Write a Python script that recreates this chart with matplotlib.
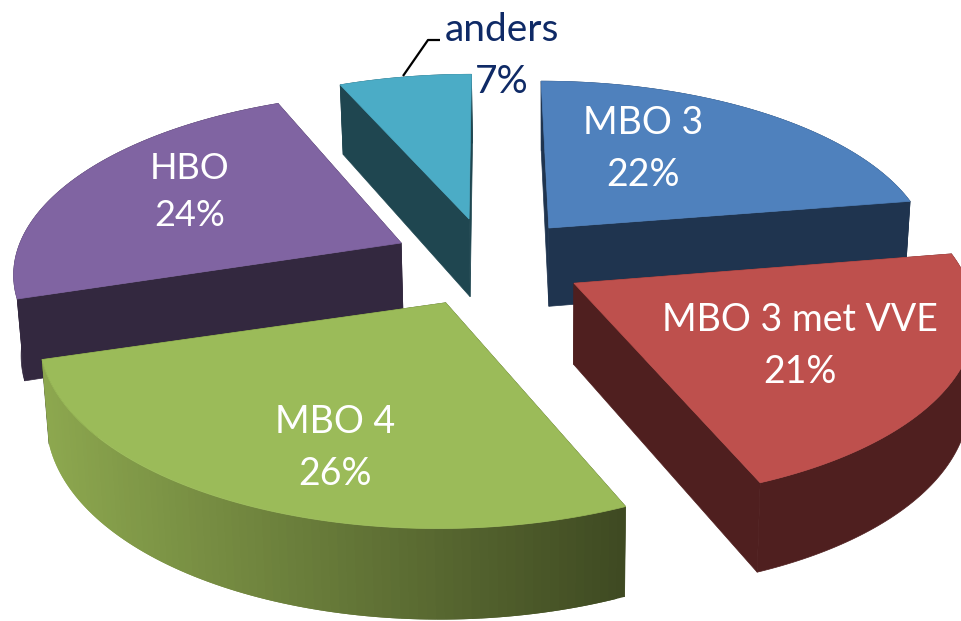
import numpy as np
import matplotlib
matplotlib.use("Agg")
import matplotlib.pyplot as plt
from matplotlib.patches import Polygon
from matplotlib.colors import to_rgb

categories = ["MBO 3", "MBO 3 met VVE", "MBO 4", "HBO", "anders"]
shares = [22.4, 21.49, 26.1, 23.5, 6.51]

top_colors = ["#4f81bd", "#be504d", "#9bbb59", "#8064a2", "#4bacc6"]
side_colors = ["#1f344f", "#4f1f1f", "#3f4a22", "#33283f", "#1f4650"]
wall_left = ["#1f344f", "#4f1f1f", "#8da84f", "#33283f", "#1f4650"]
draw_order = [4, 0, 3, 1, 2]
label_xy = [(643, 149), (800, 346), (335, 448), (190, 192), (502, 56)]
label_color = ["white"] * 4 + ["#0f2a66"]
label_size = [27, 27, 27, 26, 28]
# small per-slice corrections of the slice's start and end angle (degrees)
angle_pad = [(0, 0), (0, 0), (-1.6, 1.5), (0, 0), (0, 0)]

CX, CY, RX, RY, K, EXPLODE = 488.0, 261.0, 387.0, 178.0, 0.15, 0.25


def project(x, y, lower=False):
    s = 1.0 / (1.0 + K * y)
    sx = CX + RX * x * s
    sy = CY - RY * y * s
    if lower:
        sx = CX + 60 + (sx - CX - 60) * 0.986
        sy = sy + 80.0 - 9.0 * y
    return sx, sy


fig = plt.figure(figsize=(9.61, 6.21), dpi=100)
ax = fig.add_axes([0, 0, 1, 1])
ax.set_xlim(0, 961)
ax.set_ylim(621, 0)
ax.axis("off")

total = sum(shares)
edges = np.cumsum([0] + shares) / total * 2 * np.pi

for rank, i in enumerate(draw_order):
    a0, a1 = edges[i], edges[i + 1]
    mid = 0.5 * (a0 + a1)
    ox, oy = EXPLODE * np.sin(mid), EXPLODE * np.cos(mid)
    t = np.linspace(a0 + np.radians(angle_pad[i][0]), a1 + np.radians(angle_pad[i][1]), 90)
    x, y = ox + np.sin(t), oy + np.cos(t)

    ax_u, ay_u = project(ox, oy)
    ax_l, ay_l = project(ox, oy, True)
    ux, uy = project(x, y)
    lx, ly = project(x, y, True)

    for j in (0, -1):
        ax.add_patch(Polygon([(ax_u, ay_u), (ux[j], uy[j]), (lx[j], ly[j]), (ax_l, ay_l)],
                             closed=True, fc=side_colors[i], ec=side_colors[i], lw=0.5,
                             zorder=1 + rank * 3))
    if wall_left[i] == side_colors[i]:
        ax.add_patch(Polygon(list(zip(ux, uy)) + list(zip(lx[::-1], ly[::-1])), closed=True,
                             fc=side_colors[i], ec=side_colors[i], lw=0.5, zorder=2 + rank * 3))
    else:
        c0, c1 = np.array(to_rgb(wall_left[i])), np.array(to_rgb(side_colors[i]))
        span = ux.max() - ux.min()
        for j in range(len(t) - 1):
            k = min(j + 2, len(t) - 1)
            col = c0 + (c1 - c0) * (ux[j] - ux.min()) / span
            ax.add_patch(Polygon([(ux[j], uy[j]), (ux[k], uy[k]), (lx[k], ly[k]), (lx[j], ly[j])],
                                 closed=True, fc=col, ec="none", zorder=2 + rank * 3))
    ax.add_patch(Polygon([(ax_u, ay_u)] + list(zip(ux, uy)), closed=True, fc=top_colors[i],
                         ec=top_colors[i], lw=0.5, zorder=3 + rank * 3))

for name, v, xy, col, fs in zip(categories, shares, label_xy, label_color, label_size):
    ax.text(xy[0], xy[1], f"{name}\n{round(v)}%", color=col, ha="center", va="center",
            fontsize=fs, family="Lato", linespacing=1.52, zorder=30)

ax.plot([403, 428, 440], [76, 40, 40], color="black", lw=1.6, zorder=30, solid_capstyle="butt")

fig.savefig("out.png", dpi=100)
